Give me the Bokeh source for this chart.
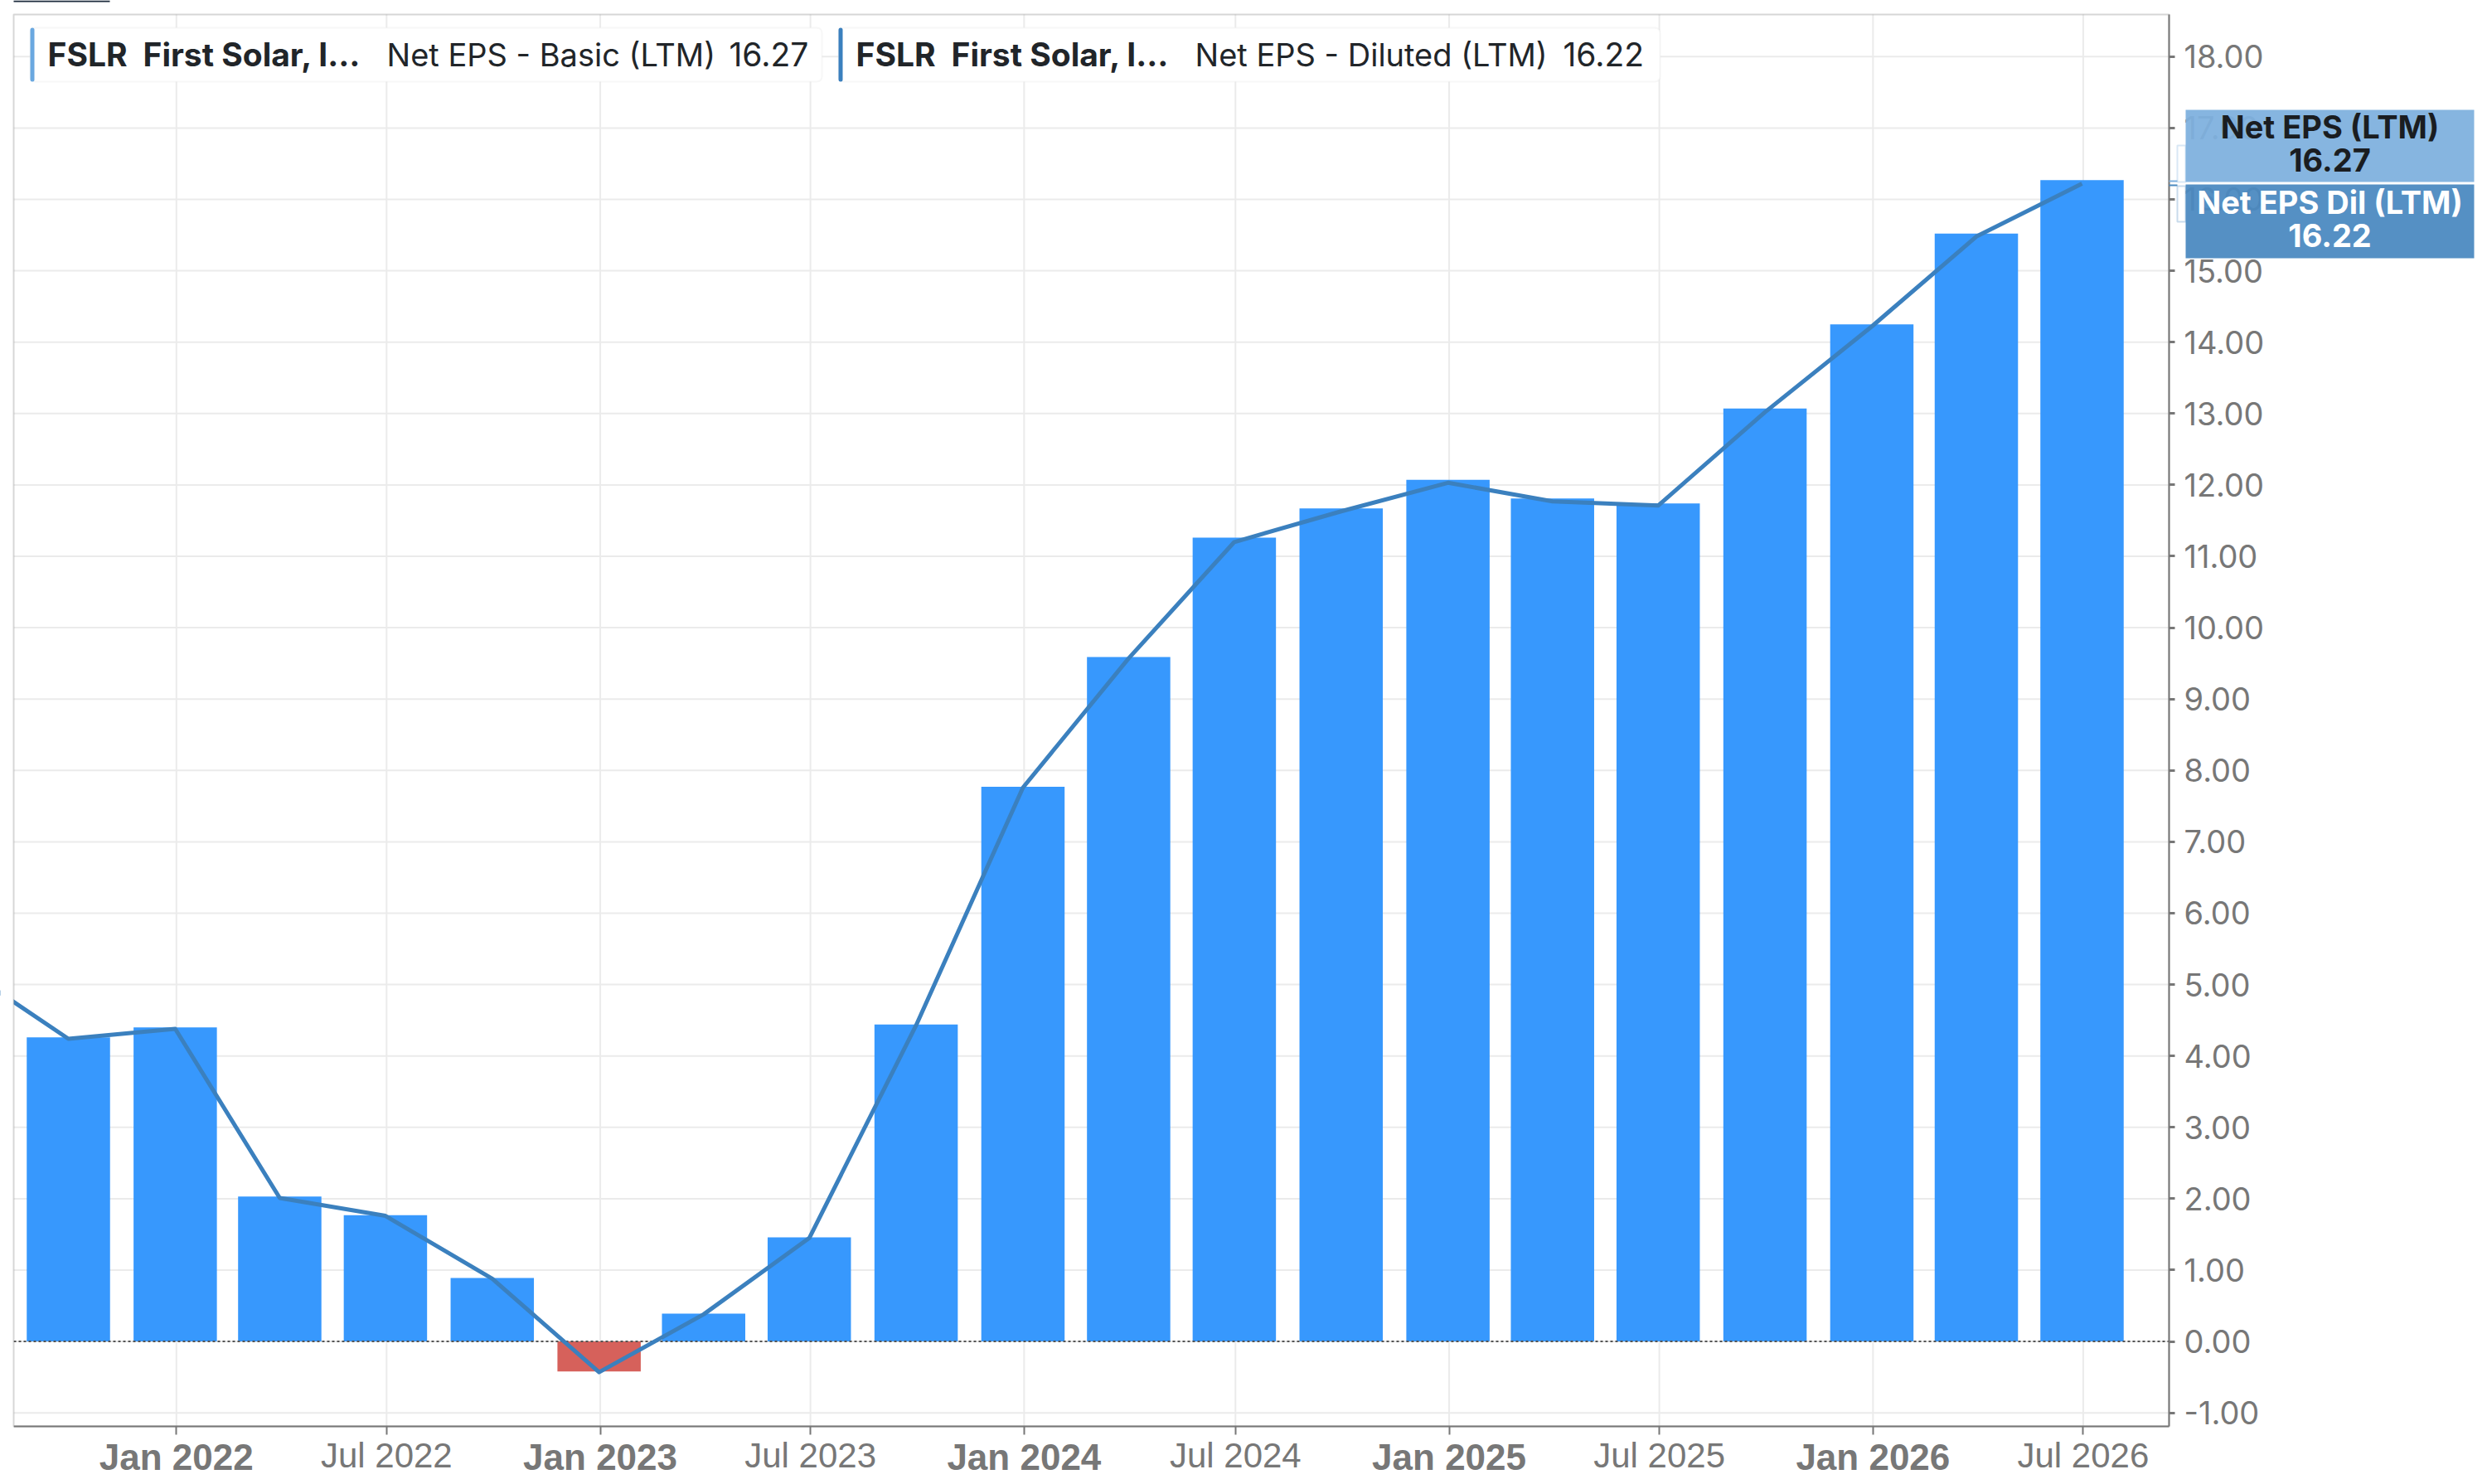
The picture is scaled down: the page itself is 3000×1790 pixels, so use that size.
from datetime import datetime, timedelta
import pandas as pd
from bokeh.plotting import figure
from bokeh.models import (Range1d, FixedTicker, NumeralTickFormatter, Label,
                          BoxAnnotation, ColumnDataSource, CustomJSTickFormatter)
from bokeh.embed import file_html
from bokeh.resources import INLINE

# ---------------- data ----------------
quarter_ends = ["2021-09-30", "2021-12-31", "2022-03-31", "2022-06-30", "2022-09-30",
                "2022-12-31", "2023-03-31", "2023-06-30", "2023-09-30", "2023-12-31",
                "2024-03-31", "2024-06-30", "2024-09-30", "2024-12-31", "2025-03-31",
                "2025-06-30", "2025-09-30", "2025-12-31", "2026-03-31", "2026-06-30"]
net_eps_basic = [4.26, 4.40, 2.03, 1.77, 0.89, -0.42, 0.39, 1.46, 4.44, 7.77,
                 9.59, 11.26, 11.67, 12.07, 11.81, 11.74, 13.07, 14.25, 15.52, 16.27]
line_dates = ["2021-06-30"] + quarter_ends
net_eps_diluted = [5.25, 4.24, 4.38, 2.01, 1.76, 0.88, -0.43, 0.38, 1.45, 4.43, 7.76,
                   9.57, 11.20, 11.63, 12.03, 11.77, 11.71, 13.02, 14.22, 15.48, 16.22]
tick_dates = ["2022-01-01", "2022-07-01", "2023-01-01", "2023-07-01", "2024-01-01",
              "2024-07-01", "2025-01-01", "2025-07-01", "2026-01-01", "2026-07-01"]
tick_labels = ["Jan 2022", "Jul 2022", "Jan 2023", "Jul 2023", "Jan 2024",
               "Jul 2024", "Jan 2025", "Jul 2025", "Jan 2026", "Jul 2026"]
y_ticks = list(range(-1, 19))
legend_basic = ["FSLR", "First Solar, I…", "Net EPS - Basic (LTM)", "16.27"]
legend_diluted = ["FSLR", "First Solar, I…", "Net EPS - Diluted (LTM)", "16.22"]
tag_basic = ["Net EPS (LTM)", "16.27"]
tag_diluted = ["Net EPS Dil (LTM)", "16.22"]

# ---------------- styles / geometry ----------------
BAR_BLUE = "#3798FD"
BAR_RED = "#D6615B"
LINE_BLUE = "#3B80BE"
AXIS_GRAY = "#777777"
GRID = "#EBEBEB"
TEXT_DARK = "#212529"

W, H = 2992, 1784          # canvas, placed at the page's top-left corner
PX_DAY = 1.4008            # horizontal scale (px per day)
PX_UNIT = 86.1             # vertical scale (px per EPS unit)
DAY_MS = 86400000.0

def ms(d):
    return pd.Timestamp(d).value / 1e6

# plotting box (where the chart's border lies)
box_x0 = ms(datetime(2021, 9, 30) - timedelta(days=47.12))
box_x1 = ms(datetime(2026, 6, 30) + timedelta(days=74.96))
box_y0, box_y1 = -1.19, 18.59

# the frame covers the whole canvas so that everything can be drawn in it
x_lo = box_x0 - 16 / PX_DAY * DAY_MS
x_hi = x_lo + W / PX_DAY * DAY_MS
y_hi = box_y1 + 17 / PX_UNIT
y_lo = y_hi - H / PX_UNIT

qd = [ms(d) for d in quarter_ends]
ld = [ms(d) for d in line_dates]
tick_ms = [ms(d) for d in tick_dates]

p = figure(width=W, height=H, x_axis_type="datetime", y_axis_location="right",
           x_range=Range1d(x_lo, x_hi), y_range=Range1d(y_lo, y_hi),
           output_backend="svg", toolbar_location=None,
           min_border=0, min_border_left=0, min_border_right=0,
           min_border_top=0, min_border_bottom=0)
p.background_fill_color = "white"
p.border_fill_color = "white"
p.outline_line_color = None
p.grid.visible = False

# grid lines, limited to the plotting box
p.segment(x0=tick_ms, x1=tick_ms, y0=[box_y0] * len(tick_ms), y1=[box_y1] * len(tick_ms),
          line_color=GRID, line_width=2)
p.segment(x0=[box_x0] * len(y_ticks), x1=[box_x1] * len(y_ticks), y0=y_ticks, y1=y_ticks,
          line_color=GRID, line_width=2)

# x axis
xa = p.xaxis[0]
xa.fixed_location = box_y0
xa.bounds = (box_x0, box_x1)
xa.ticker = FixedTicker(ticks=tick_ms)
xa.formatter = CustomJSTickFormatter(code="return ''")
xa.axis_line_color = AXIS_GRAY
xa.axis_line_width = 2
xa.major_tick_out = 10
xa.major_tick_in = 0
xa.major_tick_line_color = AXIS_GRAY
xa.major_tick_line_width = 2
xa.minor_tick_line_color = None

# y axis
ya = p.yaxis[0]
ya.fixed_location = box_x1
ya.bounds = (box_y0, box_y1)
ya.ticker = FixedTicker(ticks=y_ticks)
ya.formatter = NumeralTickFormatter(format="0.00")
ya.axis_line_color = AXIS_GRAY
ya.axis_line_width = 2
ya.major_tick_out = 7
ya.major_tick_in = 0
ya.major_tick_line_color = AXIS_GRAY
ya.major_tick_line_width = 3
ya.minor_tick_line_color = None
ya.major_label_standoff = 11
ya.major_label_text_font = "Inter"
ya.major_label_text_font_size = "38px"
ya.major_label_text_color = AXIS_GRAY

# bars
bar_src = ColumnDataSource(dict(x=qd, top=net_eps_basic,
                                color=[BAR_RED if v < 0 else BAR_BLUE for v in net_eps_basic]))
bar_w = 71.75 * DAY_MS
p.vbar(x="x", top="top", bottom=0, width=bar_w, source=bar_src,
       fill_color="color", line_color=None)

# zero line
p.segment(x0=[box_x0], x1=[box_x1], y0=[0], y1=[0], line_color="#555555",
          line_dash="3 3", line_width=2)

# diluted line
p.line(ld, net_eps_diluted, line_color=LINE_BLUE, line_width=5, line_join="round")

# mask left of the plotting box and draw its border
p.add_layout(BoxAnnotation(left=x_lo, right=box_x0, fill_color="white", fill_alpha=1.0,
                           line_color=None))
p.add_layout(BoxAnnotation(left=box_x0, right=box_x1, bottom=box_y0, top=box_y1,
                           fill_color=None, fill_alpha=0, line_color=AXIS_GRAY, line_width=2))

def sx(X):
    return X

def sy(Y):
    return H - Y

def sbox(x0, x1, y0, y1, **kw):
    return BoxAnnotation(left=sx(x0), right=sx(x1), top=sy(y0), bottom=sy(y1),
                         left_units="screen", right_units="screen",
                         top_units="screen", bottom_units="screen", **kw)

# small dark mark at the very top-left
p.add_layout(sbox(16, 132, 0, 2, fill_color="#1C2B3C", fill_alpha=1.0, line_color=None))

# x tick labels (Jan bold, Jul regular)
for t, lab in zip(tick_ms, tick_labels):
    is_jan = lab.startswith("Jan")
    p.add_layout(Label(x=t, y=sy(1757 if is_jan else 1755), y_units="screen", text=lab,
                       text_align="center", text_baseline="middle",
                       text_font="Liberation Sans",
                       text_font_size="44px" if is_jan else "42px",
                       text_font_style="bold" if is_jan else "normal",
                       text_color=AXIS_GRAY))

# top legend boxes
def legend_box(x0, x1, accent, texts, xs):
    p.add_layout(sbox(x0, x1, 33, 98, fill_color="white", fill_alpha=1.0,
                      line_color="#E4E4E4", line_width=2, border_radius=6))
    p.add_layout(sbox(x0, x0 + 5, 33, 98, fill_color=accent, fill_alpha=1.0,
                      line_color=None, border_radius=3))
    for i, (t, X) in enumerate(zip(texts, xs)):
        p.add_layout(Label(x=sx(X), y=sy(65), x_units="screen", y_units="screen", text=t,
                           text_align="left", text_baseline="middle",
                           text_font="Inter",
                           text_font_size="39px" if i != 2 else "38px",
                           text_font_style="bold" if i < 2 else "normal",
                           text_color=TEXT_DARK))

legend_box(36, 991, "#6AA8E0", legend_basic, [57, 172, 466, 879])
legend_box(1011, 2002, LINE_BLUE, legend_diluted, [1032, 1147, 1441, 1885])

# right-hand value tags
def tag(y0, y1, fill, texts, mids, color, cy0, cy1, lineY):
    p.add_layout(sbox(2626, 2636, cy0, cy1, fill_color="white", fill_alpha=1.0,
                      line_color=fill, line_width=2))
    p.add_layout(sbox(2616, 2626, lineY, lineY + 2, fill_color=fill, fill_alpha=1.0,
                      line_color=None))
    p.add_layout(sbox(2636, 2984, y0, y1, fill_color=fill, fill_alpha=0.94, line_color=None))
    for t, m in zip(texts, mids):
        p.add_layout(Label(x=sx(2810), y=sy(m), x_units="screen", y_units="screen", text=t,
                           text_align="center", text_baseline="middle",
                           text_font="Inter", text_font_size="38px",
                           text_font_style="bold", text_color=color))

tag(132, 219, "#7EB0DE", tag_basic, [152, 192], "#1A1D21", 175, 219, 217)
tag(222, 311, "#4A89C0", tag_diluted, [243, 283], "white", 224, 267, 222)

open("out.html", "w").write(file_html(p, INLINE))
